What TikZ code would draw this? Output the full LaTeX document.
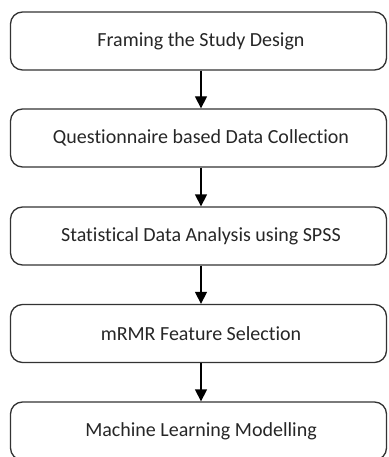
\documentclass[tikz,border=0pt]{standalone}
\usepackage{fontspec}
\setmainfont{Carlito}[Ligatures={NoCommon}]
\usetikzlibrary{arrows.meta}
\begin{document}
\begin{tikzpicture}[x=1pt,y=-1pt,
  stage/.style={draw=black!80, line width=1.3pt, rounded corners=12pt,
    minimum width=376pt, minimum height=58pt, inner sep=0pt,
    font=\fontsize{20}{24}\selectfont, text=black!85},
  arr/.style={draw=black, line width=1.3pt, -{Triangle[length=12pt,width=12pt]}}]
\clip (0,0) rectangle (388,457);
\useasboundingbox (0,0) rectangle (388,457);
\node[stage] (b1) at (198.5,41) {\hspace*{5pt}Framing the Study Design};
\node[stage] (b2) at (198.5,138) {\hspace*{5pt}Questionnaire based Data Collection};
\node[stage] (b3) at (198.5,236) {\hspace*{5pt}Statistical Data Analysis using SPSS};
\node[stage] (b4) at (198.5,333.5) {\hspace*{5pt}mRMR Feature Selection};
\node[stage] (b5) at (198.5,431) {\hspace*{5pt}Machine Learning Modelling};
\draw[arr] ([xshift=2.5pt]b1.south) -- ([xshift=2.5pt]b2.north);
\draw[arr] ([xshift=2.5pt]b2.south) -- ([xshift=2.5pt]b3.north);
\draw[arr] ([xshift=2.5pt]b3.south) -- ([xshift=2.5pt]b4.north);
\draw[arr] ([xshift=2.5pt]b4.south) -- ([xshift=2.5pt]b5.north);
\end{tikzpicture}
\end{document}
